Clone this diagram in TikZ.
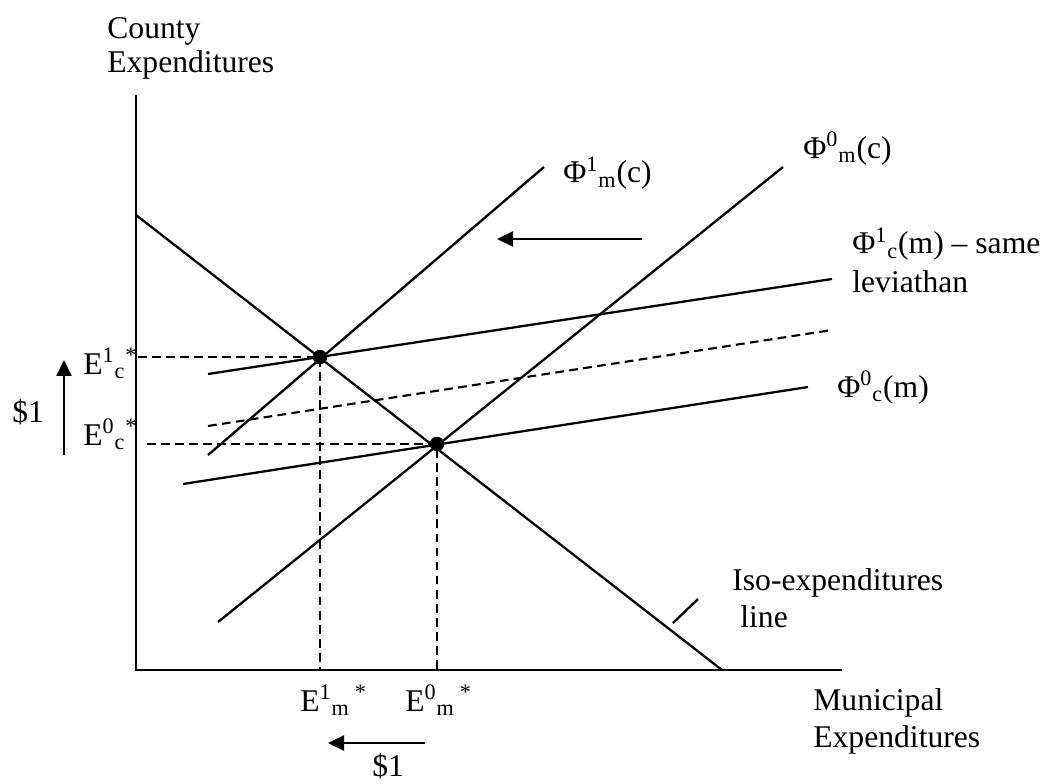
\documentclass[tikz,border=0pt]{standalone}
\usepackage{fontspec}
\setmainfont{Liberation Serif}
\usetikzlibrary{arrows.meta}
\tikzset{
  lbl/.style={anchor=base west, inner sep=0pt, font=\fontsize{18}{21}\selectfont},
  curve/.style={line width=1.3pt},
  guide/.style={line width=1.2pt, dash pattern=on 5pt off 3pt},
  shiftarrow/.style={line width=1.3pt, -{Triangle[length=0.32cm,width=0.3cm]}},
  eqdot/.style={circle, fill=black, inner sep=0pt, minimum size=0.29cm}
}
\begin{document}
\begin{tikzpicture}[x=0.02cm, y=-0.02cm]
    \useasboundingbox (0,0) rectangle (1042,784);
    % axes
    \coordinate (O) at (136,670);
    \coordinate (ytop) at (136,95);
    \coordinate (xend) at (842,670);
    \draw[curve] (ytop) -- (O) -- (xend);
    \node[lbl] (ylab1) at (107,39) {County};
    \node[lbl] (ylab2) at (107,73) {Expenditures};
    \node[lbl] (xlab1) at (813,710) {Municipal};
    \node[lbl] (xlab2) at (813,747) {Expenditures};
    % equilibria
    \coordinate (E1) at (320,357);
    \coordinate (E0) at (437,444);
    % iso-expenditures line
    \coordinate (iso-a) at (136,215);
    \coordinate (iso-b) at (722,670);
    \draw[curve] (iso-a) -- (iso-b);
    \coordinate (tick-a) at (673,623);
    \coordinate (tick-b) at (698,599);
    \draw[curve] (tick-a) -- (tick-b);
    \node[lbl] (isolab1) at (732,590) {Iso-expenditures};
    \node[lbl] (isolab2) at (740,627) {line};
    % reaction functions
    \coordinate (m1-a) at (208,455);
    \coordinate (m1-b) at (544,167);
    \draw[curve] (m1-a) -- (m1-b);
    \node[lbl] (m1lab) at (563,183) {Φ\textsuperscript{1}\textsubscript{m}(c)};
    \coordinate (m0-a) at (218,622);
    \coordinate (m0-b) at (783,167);
    \draw[curve] (m0-a) -- (m0-b);
    \node[lbl] (m0lab) at (803,158) {Φ\textsuperscript{0}\textsubscript{m}(c)};
    \coordinate (c1-a) at (208,374);
    \coordinate (c1-b) at (832,279);
    \draw[curve] (c1-a) -- (c1-b);
    \node[lbl] (c1lab1) at (852,254) {Φ\textsuperscript{1}\textsubscript{c}(m) – same};
    \node[lbl] (c1lab2) at (852,292) {leviathan};
    \coordinate (cd-a) at (208,426);
    \coordinate (cd-b) at (832,330);
    \draw[guide] (cd-a) -- (cd-b);
    \coordinate (c0-a) at (183,484);
    \coordinate (c0-b) at (808,387);
    \draw[curve] (c0-a) -- (c0-b);
    \node[lbl] (c0lab) at (837,397) {Φ\textsuperscript{0}\textsubscript{c}(m)};
    % guides to the axes
    \coordinate (E1y) at (138,357);
    \coordinate (E0y) at (147,444);
    \coordinate (E1x) at (320,670);
    \coordinate (E0x) at (437,670);
    \draw[guide] (E1y) -- (E1) -- (E1x);
    \draw[guide] (E0y) -- (E0) -- (E0x);
    \node[eqdot] (dot1) at (E1) {};
    \node[eqdot] (dot0) at (E0) {};
    % axis labels of the equilibria
    \node[lbl] (ec1) at (83,374) {E\textsuperscript{1}\textsubscript{c}\textsuperscript{*}};
    \node[lbl] (ec0) at (83,445) {E\textsuperscript{0}\textsubscript{c}\textsuperscript{*}};
    \node[lbl] (em1) at (300,711) {E\textsuperscript{1}\textsubscript{m}\,\textsuperscript{*}};
    \node[lbl] (em0) at (405,711) {E\textsuperscript{0}\textsubscript{m}\,\textsuperscript{*}};
    % shifts
    \coordinate (up-a) at (64,455);
    \coordinate (up-b) at (64,360);
    \draw[shiftarrow] (up-a) -- (up-b);
    \node[lbl] (dollar-l) at (12,422) {\$1};
    \coordinate (lf-a) at (425,743);
    \coordinate (lf-b) at (328,743);
    \draw[shiftarrow] (lf-a) -- (lf-b);
    \node[lbl] (dollar-b) at (372,776) {\$1};
    \coordinate (top-a) at (642,239);
    \coordinate (top-b) at (497,239);
    \draw[shiftarrow] (top-a) -- (top-b);
\end{tikzpicture}
\end{document}
